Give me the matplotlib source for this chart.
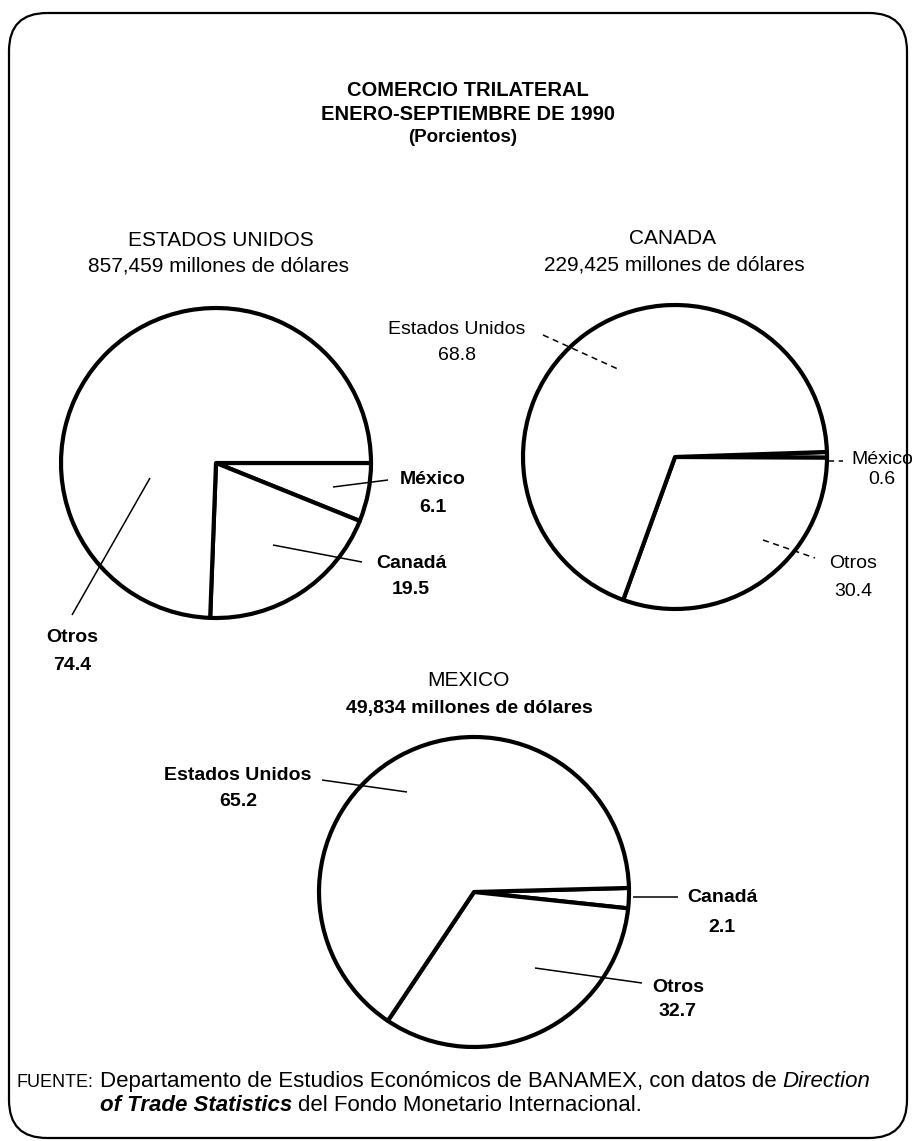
import matplotlib
matplotlib.use("Agg")
import matplotlib.pyplot as plt
from matplotlib.patches import FancyBboxPatch

# ---------------------------------------------------------------- data
title_lines = ["COMERCIO TRILATERAL", "ENERO-SEPTIEMBRE DE 1990", "(Porcientos)"]

us_name = "ESTADOS UNIDOS"
us_total = "857,459"
us_partners = ["México", "Canadá", "Otros"]
us_shares = [6.1, 19.5, 74.4]

ca_name = "CANADA"
ca_total = "229,425"
ca_partners = ["México", "Otros", "Estados Unidos"]
ca_shares = [0.6, 30.4, 68.8]

mx_name = "MEXICO"
mx_total = "49,834"
mx_partners = ["Canadá", "Otros", "Estados Unidos"]
mx_shares = [2.1, 32.7, 65.2]

units = "millones de dólares"
source_label = "FUENTE:"

# ---------------------------------------------------------------- canvas
W, H, DPI = 916, 1141, 100
plt.rcParams['font.family'] = ['Liberation Sans', 'DejaVu Sans']

fig = plt.figure(figsize=(W / DPI, H / DPI), dpi=DPI)
fig.patch.set_facecolor('white')
ax = fig.add_axes([0, 0, 1, 1])


def px(x, y):
    """Pixel position measured from the top-left corner -> data coords."""
    return (x, H - y)


# ---------------------------------------------------------------- pies
pie_specs = [
    # shares, center, radius, start angle
    (us_shares, px(216, 463), 155, 0.0),
    (ca_shares, px(675, 457), 152, 1.9),
    (mx_shares, px(474, 892), 155, 1.5),
]
for shares, center, radius, start in pie_specs:
    ax.pie(shares, center=center, radius=radius, startangle=start,
           counterclock=False, colors=['white'] * len(shares),
           wedgeprops=dict(edgecolor='black', linewidth=3.0,
                           joinstyle='round'))

ax.set_xlim(0, W)
ax.set_ylim(0, H)
ax.set_aspect('equal')
ax.axis('off')

# ---------------------------------------------------------------- headings
ax.text(*px(468, 90), title_lines[0], fontsize=14.5, fontweight='bold',
        ha='center', va='center')
ax.text(*px(468, 114), title_lines[1], fontsize=14.5, fontweight='bold',
        ha='center', va='center')
ax.text(*px(463, 138), title_lines[2], fontsize=13.5, fontweight='bold',
        ha='center', va='center')

ax.text(*px(221, 240), us_name, fontsize=15, ha='center', va='center')
ax.text(*px(219, 266), f"{us_total} {units}", fontsize=15,
        ha='center', va='center')
ax.text(*px(673, 239), ca_name, fontsize=15, ha='center', va='center')
ax.text(*px(674, 265), f"{ca_total} {units}", fontsize=15,
        ha='center', va='center')
ax.text(*px(468, 680), mx_name, fontsize=15, ha='center', va='center')
ax.text(*px(469, 708), f"{mx_total} {units}", fontsize=14,
        fontweight='bold', ha='center', va='center')


# ---------------------------------------------------------------- labels
def slice_label(name, value, pos, leader, weight='bold', ls='-', gap=27):
    x, y = pos
    ax.text(*px(x, y), name, fontsize=14, fontweight=weight,
            ha='center', va='center')
    ax.text(*px(x, y + gap), f"{value:.1f}", fontsize=14, fontweight=weight,
            ha='center', va='center')
    (x0, y0), (x1, y1) = leader
    ax.plot([x0, x1], [H - y0, H - y1], color='black', lw=1.1,
            linestyle=ls, solid_capstyle='butt')


# Estados Unidos
slice_label(us_partners[0], us_shares[0], (433, 480), ((333, 487), (388, 480)))
slice_label(us_partners[1], us_shares[1], (411, 563), ((273, 545), (362, 562)))
slice_label(us_partners[2], us_shares[2], (72, 638), ((150, 478), (72, 615)))

# Canada
slice_label(ca_partners[0], ca_shares[0], (882, 460), ((828, 461), (843, 461)),
            weight='normal', ls=(0, (4, 3)), gap=20)
slice_label(ca_partners[1], ca_shares[1], (853, 563), ((763, 540), (815, 558)),
            weight='normal', ls=(0, (4, 3)), gap=28)
slice_label(ca_partners[2], ca_shares[2], (457, 330), ((543, 335), (620, 370)),
            weight='normal', ls=(0, (4, 3)), gap=25)

# Mexico
slice_label(mx_partners[0], mx_shares[0], (722, 897), ((633, 897), (678, 897)),
            gap=30)
slice_label(mx_partners[1], mx_shares[1], (678, 987), ((535, 968), (642, 983)),
            gap=24)
slice_label(mx_partners[2], mx_shares[2], (238, 775), ((322, 780), (407, 792)))

# ---------------------------------------------------------------- source note
renderer = fig.canvas.get_renderer()
FOOT_SIZE = 16


def text_width(s, **kw):
    t = ax.text(0, 0, s, fontsize=FOOT_SIZE, **kw)
    w = t.get_window_extent(renderer).width
    t.remove()
    return w


space_w = text_width("a a") - text_width("aa")


def draw_runs(x, y, runs):
    cur = x
    for text, style, weight in runs:
        t = ax.text(cur, H - y, text, fontsize=FOOT_SIZE, fontstyle=style,
                    fontweight=weight, ha='left', va='baseline')
        bb = t.get_window_extent(renderer)
        cur = ax.transData.inverted().transform((bb.x1, bb.y0))[0] + space_w


ax.text(*px(17, 1087), source_label, fontsize=13, ha='left', va='baseline')
draw_runs(100, 1087, [
    ("Departamento de Estudios Económicos de BANAMEX, con datos de",
     'normal', 'normal'),
    ("Direction", 'italic', 'normal'),
])
draw_runs(100, 1111, [
    ("of Trade Statistics", 'italic', 'bold'),
    ("del Fondo Monetario Internacional.", 'normal', 'normal'),
])

# ---------------------------------------------------------------- frame
frame = FancyBboxPatch((9, H - 1138), 898, 1125,
                       boxstyle="round,pad=0,rounding_size=38",
                       fill=False, edgecolor='black', linewidth=1.6,
                       clip_on=False)
ax.add_patch(frame)

fig.savefig("out.png", dpi=DPI, facecolor='white')
